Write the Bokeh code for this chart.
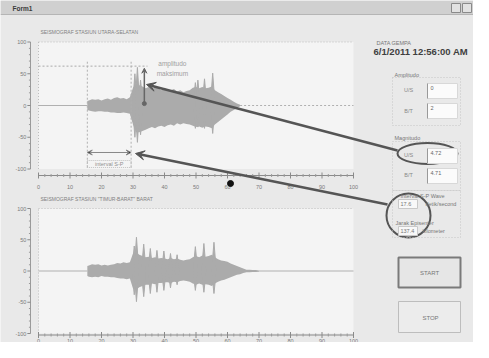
from bokeh.plotting import figure
from bokeh.models import Range1d, Arrow, VeeHead
from bokeh.core.properties import value
from bokeh.embed import file_html
from bokeh.resources import INLINE

# ---------------- data ----------------
x_ticks = [0, 10, 20, 30, 40, 50, 60, 70, 80, 90, 100]
x_tick_labels = [str(t) for t in x_ticks]
y_ticks = [-100, -50, 0, 50, 100]
y_tick_labels = ["-100", "-50", "0", "50", "100"]

title_ns = "SEISMOGRAF STASIUN UTARA-SELATAN"
title_ew = "SEISMOGRAF STASIUN \"TIMUR-BARAT\" BARAT"

# North-South trace: envelope of the dense waveform
ns_x = [15.5] + list(range(16, 65))
ns_up = [7, 8, 10, 9, 10, 8, 10, 11, 9, 12,
         13, 11, 12, 10, 13, 28, 34, 32, 30, 27,
         29, 26, 29, 27, 24, 28, 25, 24, 26, 22,
         24, 21, 23, 24, 28, 29, 27, 29, 27, 28,
         30, 24, 21, 18, 15, 12, 9, 6, 3, 1]
ns_lo = [-7, -8, -9, -10, -9, -9, -10, -10, -11, -11,
         -12, -12, -11, -12, -13, -30, -42, -42, -40, -38,
         -36, -34, -36, -33, -32, -34, -31, -30, -32, -28,
         -30, -28, -29, -30, -32, -34, -33, -35, -33, -34,
         -36, -30, -26, -22, -18, -14, -10, -7, -4, -1]
ns_spike_x = [30.6, 31.4, 32.4, 49.8, 50.6, 52.7, 55.3]
ns_spike_top = [50, 60, 40, 36, 40, 42, 51]
ns_spike_bot = [-50, -58, -46, -36, -34, -36, -44]

# East-West trace
ew_x = [15.5] + list(range(16, 71))
ew_up = [8, 9, 11, 10, 11, 9, 10, 9, 10, 11,
         13, 12, 14, 13, 14, 28, 30, 26, 24, 22,
         23, 21, 22, 20, 21, 20, 19, 21, 19, 20,
         18, 17, 18, 19, 22, 24, 22, 25, 23, 24,
         26, 22, 19, 17, 16, 15, 12, 10, 8, 6,
         4, 2, 2, 1.5, 1.5, 1]
ew_lo = [-8, -9, -10, -9, -10, -8, -9, -9, -10, -10,
         -11, -12, -12, -13, -12, -28, -30, -26, -24, -22,
         -22, -20, -21, -19, -19, -18, -18, -19, -17, -18,
         -16, -15, -16, -17, -20, -22, -20, -22, -21, -22,
         -24, -20, -17, -15, -14, -12, -10, -8, -6, -5,
         -3, -2, -2, -1.5, -1.5, -1]
ew_spike_x = [30.4, 31.1, 33.4, 35.5, 37.6, 39.8, 41.9, 44.0, 49.8, 52.5, 55.7]
ew_spike_top = [40, 54, 43, 36, 33, 32, 28, 26, 39, 44, 46]
ew_spike_bot = [-38, -49, -41, -36, -34, -31, -27, -22, -31, -34, -36]

# S-P interval and max amplitude markers (N-S trace)
s_wave_x = 15.5
p_wave_x = 29.4
amp_max_x = 33.6
amp_max = 58.7
amp_max_line = 62

date_text = "6/1/2011 12:56:00 AM"
amp_us, amp_bt = "0", "2"
mag_us, mag_bt = "4.72", "4.71"
interval_sp = "17.6"
jarak = "137.4"

# ---------------- figure ----------------
W, H = 473, 342
PX0, PY0 = 0, 0
FONT = value("Liberation Sans")
WAVE = "#ababab"

p = figure(width=W, height=H, output_backend="svg", toolbar_location=None,
           x_range=Range1d(PX0, PX0 + W), y_range=Range1d(PY0 + H, PY0),
           min_border=0, x_axis_location=None, y_axis_location=None)
p.grid.visible = False
p.outline_line_color = None
p.background_fill_color = "#e9e9e9"
p.border_fill_color = "#e9e9e9"

X0_PX, X_SC = 38, 3.15
TOP_ZERO, TOP_SC = 105, 0.635
BOT_ZERO, BOT_SC = 270.5, 0.625
p.extra_x_ranges = {"cx": Range1d((PX0 - X0_PX) / X_SC, (PX0 + W - X0_PX) / X_SC)}
p.extra_y_ranges = {
    "ty": Range1d((TOP_ZERO - (PY0 + H)) / TOP_SC, (TOP_ZERO - PY0) / TOP_SC),
    "by": Range1d((BOT_ZERO - (PY0 + H)) / BOT_SC, (BOT_ZERO - PY0) / BOT_SC),
}


def txt(x, y, s, size="6px", color="#777777", align="left", base="middle",
        style="normal", xr="default", yr="default"):
    if not isinstance(s, list):
        s = [s]
        x = [x]
        y = [y]
    p.text(x=x, y=y, text=s, text_font=FONT, text_font_size=value(size),
           text_color=color, text_align=align, text_baseline=base,
           text_font_style=style, x_range_name=xr, y_range_name=yr)


# title bar
p.quad(left=0, right=W, top=0, bottom=14, fill_color="#d0d0d0", line_color=None)
p.segment(x0=0, y0=14, x1=W, y1=14, line_color="#b5b5b5")
txt(12, 7.5, "Form1", size="6.5px", color="#3a3a3a", style="bold")
p.quad(left=[451, 462], right=[460, 471], top=[3, 3], bottom=[12, 12],
       fill_color="#e2e2e2", line_color="#8a8a8a")


def spikes(sx, st, sb, half=0.75):
    xs, ys = [], []
    for x, t, b in zip(sx, st, sb):
        xs.append([x - half, x, x + half, x])
        ys.append([0, t, 0, b])
    return xs, ys


def chart(yr, sc, title, bx, up, lo, sx, st, sb, axis_y, lab_off, zero_dash):
    kw = dict(x_range_name="cx", y_range_name=yr)
    p.quad(left=0, right=100, bottom=-100, top=100, fill_color="#f4f4f4", line_color=None, **kw)
    p.segment(x0=[0, 0], y0=[100, -100], x1=[100, 0], y1=[100, 100],
              line_color="#bdbdbd", line_dash="1 2", line_width=1, **kw)
    p.segment(x0=0, y0=0, x1=bx[0], y1=0, line_color="#b0b0b0", line_width=1, **kw)
    p.segment(x0=bx[-1], y0=0, x1=100, y1=0, line_color="#b0b0b0", line_width=1,
              line_dash=zero_dash, **kw)
    p.varea(x=bx, y1=lo, y2=up, fill_color=WAVE, **kw)
    xs, ys = spikes(sx, st, sb)
    p.patches(xs=xs, ys=ys, fill_color=WAVE, line_color=WAVE, line_width=1, **kw)
    # x axis
    d = 3 / sc
    p.segment(x0=0, y0=axis_y, x1=100, y1=axis_y, line_color="#8a8a8a", line_width=1, **kw)
    p.segment(x0=x_ticks, y0=[axis_y - d] * len(x_ticks), x1=x_ticks, y1=[axis_y + d] * len(x_ticks),
              line_color="#8a8a8a", line_width=1, **kw)
    minor = [m for m in range(0, 101, 2) if m % 10]
    p.segment(x0=minor, y0=[axis_y - d / 2] * len(minor), x1=minor, y1=[axis_y + d / 2] * len(minor),
              line_color="#9a9a9a", line_width=1, **kw)
    txt(x_ticks, [axis_y - lab_off / sc] * len(x_ticks), x_tick_labels, size="5.5px",
        color="#7a7a7a", align="center", xr="cx", yr=yr)
    # y axis
    ax = -8 / X_SC
    p.segment(x0=ax, y0=-100, x1=ax, y1=100, line_color="#9a9a9a", line_width=1, **kw)
    p.segment(x0=[ax - 1] * len(y_ticks), y0=y_ticks, x1=[ax] * len(y_ticks), y1=y_ticks,
              line_color="#8a8a8a", line_width=1, **kw)
    yminor = [m for m in range(-100, 101, 10) if m % 50]
    p.segment(x0=[ax - 0.5] * len(yminor), y0=yminor, x1=[ax] * len(yminor), y1=yminor,
              line_color="#9a9a9a", line_width=1, **kw)
    txt([ax - 1.3] * len(y_ticks), y_ticks, y_tick_labels, size="5.5px", color="#7a7a7a",
        align="right", xr="cx", yr=yr)
    # title
    txt(0.6, 115, title, size="5px", color="#808080", xr="cx", yr=yr)


chart("ty", TOP_SC, title_ns, ns_x, ns_up, ns_lo, ns_spike_x, ns_spike_top, ns_spike_bot,
      (TOP_ZERO - 175) / TOP_SC, 11, "2 2")
chart("by", BOT_SC, title_ew, ew_x, ew_up, ew_lo, ew_spike_x, ew_spike_top, ew_spike_bot,
      (BOT_ZERO - 334.5) / BOT_SC, 5.5, "solid")

# annotations on the N-S trace
kt = dict(x_range_name="cx", y_range_name="ty")
p.segment(x0=0, y0=amp_max_line, x1=amp_max_x + 1, y1=amp_max_line,
          line_color="#aaaaaa", line_dash="2 2", **kt)
p.segment(x0=[s_wave_x, p_wave_x], y0=[-98, -98], x1=[s_wave_x, p_wave_x], y1=[71, 71],
          line_color="#b0b0b0", line_dash="2 2", **kt)
p.add_layout(Arrow(x_start=s_wave_x, y_start=-74, x_end=p_wave_x, y_end=-74,
                   start=VeeHead(size=5, line_color="#888888", line_width=1),
                   end=VeeHead(size=5, line_color="#888888", line_width=1),
                   line_color="#888888", line_width=1, **kt))
p.quad(left=s_wave_x, right=p_wave_x, bottom=-97.6, top=-86.6, fill_color=None,
       line_color="#c0c0c0", line_dash="1 1", **kt)
txt((s_wave_x + p_wave_x) / 2, -92, "interval S-P", size="5.5px", color="#909090",
    align="center", xr="cx", yr="ty")
p.add_layout(Arrow(x_start=amp_max_x, y_start=3, x_end=amp_max_x, y_end=amp_max,
                   end=VeeHead(size=5, line_color="#666666", fill_color="#666666", line_width=1),
                   line_color="#666666", line_width=1.5, **kt))
p.scatter(x=[amp_max_x], y=[3], size=4, color="#666666", **kt)
txt([42.5, 42.5], [66, 50], ["amplitudo", "maksimum"], size="6.5px", color="#a0a0a0",
    align="center", xr="cx", yr="ty")

# big pointer arrows, ellipse and circle
p.add_layout(Arrow(x_start=397, y_start=150, x_end=146, y_end=84,
                   end=VeeHead(size=9, line_color="#555555", fill_color="#555555", line_width=1),
                   line_color="#555555", line_width=2.5))
p.add_layout(Arrow(x_start=387, y_start=204, x_end=135, y_end=153,
                   end=VeeHead(size=9, line_color="#555555", fill_color="#555555", line_width=1),
                   line_color="#555555", line_width=2.5))
p.ellipse(x=427, y=153, width=60, height=21, fill_color=None, line_color="#555555", line_width=2)
p.ellipse(x=408, y=215, width=44, height=44, fill_color=None, line_color="#555555", line_width=2)
p.scatter(x=[230], y=[183], size=6, color="#111111")

# right panel
txt(376, 42, "DATA GEMPA", size="5.5px", color="#777777")
txt(373, 51, date_text, size="9.5px", color="#3f3f3f", style="bold")

boxes = dict(left=[392, 392, 392], right=[460, 460, 460], top=[77, 141, 190], bottom=[125, 190, 237])
p.quad(**boxes, fill_color=None, line_color="#c4c4c4", line_dash="1 2")
txt([394, 394], [74, 137], ["Amplitudo", "Magnitudo"], size="5.5px", color="#777777")
txt([408, 408, 408, 408], [89, 110, 154, 174], ["U/S", "B/T", "U/S", "B/T"], size="5.5px",
    color="#888888", align="center")
p.quad(left=[427] * 4, right=[457] * 4, top=[83, 103, 148, 168], bottom=[98, 118, 163, 183],
       fill_color="#fbfbfb", line_color="#d8d8d8")
p.segment(x0=[427] * 4, y0=[83, 103, 148, 168], x1=[427] * 4, y1=[98, 118, 163, 183],
          line_color="#999999", line_width=1)
txt([430, 430, 430, 430], [87, 107, 152, 172], [amp_us, amp_bt, mag_us, mag_bt], size="5.5px",
    color="#666666")

txt(400, 195, "Interval S-P Wave", size="5.5px", color="#777777")
txt(395, 222, "Jarak Episenter", size="5.5px", color="#777777")
p.quad(left=[398, 398], right=[417, 417], top=[199, 226], bottom=[208, 235],
       fill_color="#f8f8f8", line_color="#c8c8c8")
txt([400, 400], [203.5, 230.5], [interval_sp, jarak], size="5.5px", color="#777777")
txt([425, 422], [203, 230], ["detik/second", "kilometer"], size="5.5px", color="#777777")

p.quad(left=398, right=460, top=257, bottom=287, fill_color="#e6e6e6", line_color="#7a7a7a", line_width=2)
txt(429, 272, "START", size="6px", color="#777777", align="center")
p.quad(left=398, right=460, top=301, bottom=332, fill_color="#ececec", line_color="#bdbdbd", line_width=1)
txt(430, 317, "STOP", size="6px", color="#777777", align="center")

open("out.html", "w").write(file_html(p, INLINE))
